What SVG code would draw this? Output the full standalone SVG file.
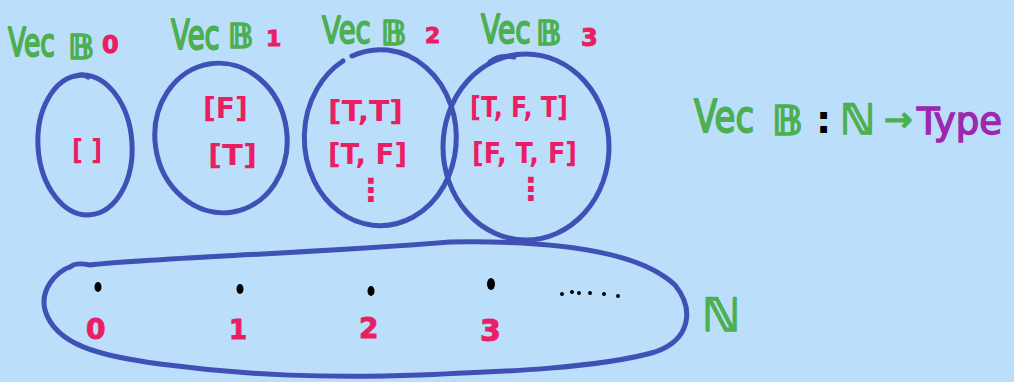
<svg xmlns="http://www.w3.org/2000/svg" width="1014" height="382" viewBox="0 0 1014 382">
<style>
.bg{fill:#bbdefb}
.set{fill:none;stroke:#3f51b5;stroke-width:5;stroke-linecap:round;stroke-linejoin:round}
text{font-family:"DejaVu Sans","Liberation Sans",sans-serif}
.g{fill:#4caf50;stroke:#4caf50;stroke-width:1.4;stroke-linejoin:round}
.bb{font-weight:bold}
.p{fill:#e91e63;font-weight:bold}
.pn{fill:#e91e63;stroke:#e91e63;stroke-width:1;font-weight:bold}
.pu{fill:#9c27b0;stroke:#9c27b0;stroke-width:1.4}
.k{fill:#000}
</style>
<rect class="bg" x="0" y="0" width="1014" height="382"/>
<g id="connectors"></g>
<g id="vecb0">
<ellipse class="set" cx="85" cy="145" rx="47" ry="70" transform="rotate(-4 85 145)"/>
<path class="set" d="M76,76 q6,-3 12,1"/>
<text class="g" transform="translate(8,56) scale(1,1.5)" font-size="26.5">Vec</text>
<text class="g bb" x="68" y="59" font-size="34">𝔹</text>
<text class="pn" x="102" y="53" font-size="24">0</text>
<text class="p" x="72" y="160" font-size="29" textLength="30" lengthAdjust="spacingAndGlyphs">[ ]</text>
</g>
<g id="vecb1">
<ellipse class="set" cx="221" cy="138" rx="66" ry="75" transform="rotate(-8 221 138)"/>
<text class="g" transform="translate(171,49) scale(1,1.5)" font-size="27.5">Vec</text>
<text class="g bb" x="228" y="48" font-size="33">𝔹</text>
<text class="pn" x="266" y="46" font-size="22">1</text>
<text class="p" x="203" y="118" font-size="29" textLength="45" lengthAdjust="spacingAndGlyphs">[F]</text>
<text class="p" x="208" y="165" font-size="29" textLength="49" lengthAdjust="spacingAndGlyphs">[T]</text>
</g>
<g id="vecb2">
<path class="set" d="M352,56 A76,88 0 1 1 343,61"/>
<text class="g" transform="translate(322,43) scale(1,1.35)" font-size="27.5">Vec</text>
<text class="g bb" x="381" y="45" font-size="33">𝔹</text>
<text class="pn" x="425" y="43" font-size="22">2</text>
<text class="p" x="328" y="121" font-size="29" textLength="75" lengthAdjust="spacingAndGlyphs">[T,T]</text>
<text class="p" x="328" y="164" font-size="29" textLength="79" lengthAdjust="spacingAndGlyphs">[T, F]</text>
<text class="p" x="355" y="201" font-size="32">⋮</text>
</g>
<g id="vecb3">
<ellipse class="set" cx="526" cy="147" rx="83" ry="93"/>
<path class="set" d="M490,62 q10,-8 24,-5"/>
<text class="g" transform="translate(481,43) scale(1,1.4)" font-size="28">Vec</text>
<text class="g bb" x="536" y="45" font-size="33">𝔹</text>
<text class="pn" x="581" y="46" font-size="24">3</text>
<text class="p" x="470" y="117" font-size="28" textLength="98" lengthAdjust="spacingAndGlyphs">[T, F, T]</text>
<text class="p" x="472" y="163" font-size="29" textLength="105" lengthAdjust="spacingAndGlyphs">[F, T, F]</text>
<text class="p" x="515" y="200" font-size="32">⋮</text>
</g>
<g id="nat">
<path class="set" d="M70,267 Q75,262 90,265 C150,258 300,254 450,242 C560,240 640,252 675,285 C695,310 690,340 655,352 C600,368 500,372 420,375 C330,378 250,376 160,364 C100,356 55,345 45,310 C40,290 55,272 72,266"/>
<ellipse class="k" cx="98" cy="287" rx="3.5" ry="5"/>
<ellipse class="k" cx="240" cy="289" rx="3.5" ry="5"/>
<ellipse class="k" cx="371" cy="291" rx="3.5" ry="5"/>
<ellipse class="k" cx="491" cy="284" rx="4" ry="6"/>
<circle class="k" cx="562" cy="294" r="2"/>
<circle class="k" cx="572" cy="292" r="2"/>
<circle class="k" cx="579" cy="293" r="2"/>
<circle class="k" cx="590" cy="293" r="2"/>
<circle class="k" cx="604" cy="294" r="2"/>
<circle class="k" cx="618" cy="296" r="2"/>
<text class="pn" x="86" y="339" font-size="28">0</text>
<text class="pn" x="229" y="339" font-size="26">1</text>
<text class="pn" x="359" y="338" font-size="28">2</text>
<text class="pn" x="480" y="341" font-size="30">3</text>
<text class="g bb" x="702" y="331" font-size="46">ℕ</text>
</g>
<g id="signature">
<text class="g" transform="translate(694,132) scale(1,1.3)" font-size="34">Vec</text>
<text class="g bb" x="772" y="135" font-size="40">𝔹</text>
<text class="k" x="816" y="133" font-size="38" font-weight="bold">:</text>
<text class="g bb" x="840" y="134" font-size="42">ℕ</text>
<text class="g" x="884" y="131" font-size="34">→</text>
<text class="pu" x="917" y="134" font-size="37">Type</text>
</g>
</svg>
